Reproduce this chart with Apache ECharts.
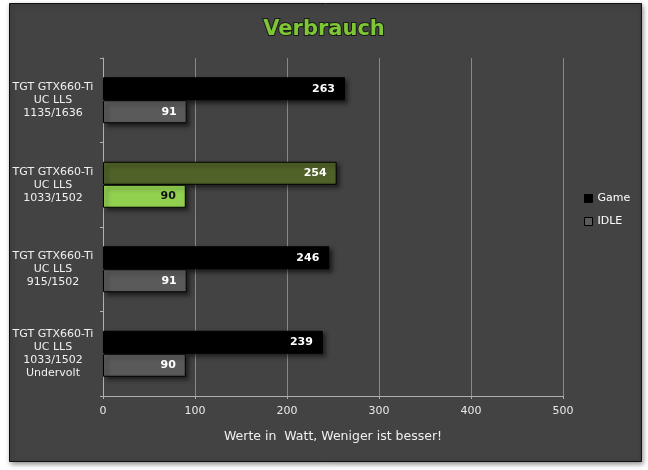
<!DOCTYPE html>
<html><head><meta charset="utf-8">
<script src="https://cdn.jsdelivr.net/npm/echarts@6/dist/echarts.min.js"></script>
<style>html,body{margin:0;padding:0;background:#fff;}#c{width:648px;height:470px;}</style>
</head><body><div id="c"></div>
<script>
var categories = ['TGT GTX660-Ti\nUC LLS\n1135/1636','TGT GTX660-Ti\nUC LLS\n1033/1502','TGT GTX660-Ti\nUC LLS\n915/1502','TGT GTX660-Ti\nUC LLS\n1033/1502\nUndervolt'];
var gameValues = [263, 254, 246, 239];
var idleValues = [91, 90, 91, 90];
var highlightIndex = 1;

var chart = echarts.init(document.getElementById('c'));
var shadow = {shadowColor:'rgba(0,0,0,0.55)', shadowBlur:4, shadowOffsetX:3, shadowOffsetY:3};
function mk(vals, hiColor, hiLabel){
  return vals.map(function(v,i){
    var d = {value:v};
    if(i===highlightIndex){ d.itemStyle={color:hiColor}; if(hiLabel) d.label={color:hiLabel}; }
    return d;
  });
}
var font = 'DejaVu Sans';
chart.setOption({
  backgroundColor:'#ffffff',
  animation:false,
  graphic:[{type:'rect', z:-10, shape:{x:9.5,y:3.5,width:632,height:458},
    style:{fill:'#434343', stroke:'#111', lineWidth:1, shadowColor:'rgba(0,0,0,0.45)', shadowBlur:5, shadowOffsetX:1, shadowOffsetY:2}}],
  title:{text:'Verbrauch', left:'center', top:14,
    textStyle:{fontFamily:font, fontSize:21, fontWeight:'bold', color:'#7dc634', textBorderColor:'#1b1b1b', textBorderWidth:2}},
  legend:{orient:'vertical', left:579, top:188, itemWidth:8, itemHeight:8, itemGap:12, icon:'rect',
    textStyle:{fontFamily:font, fontSize:11, color:'#ffffff'},
    data:[{name:'Game', itemStyle:{color:'#000', borderColor:'#000', borderWidth:1}},
          {name:'IDLE', itemStyle:{color:'#5a5a5a', borderColor:'#000', borderWidth:1}}]},
  grid:{left:103, right:85, top:58, bottom:74},
  xAxis:{type:'value', min:0, max:500, interval:100,
    name:'Werte in  Watt, Weniger ist besser!', nameLocation:'middle', nameGap:34,
    nameTextStyle:{fontFamily:font, fontSize:12.5, color:'#f0f0f0'},
    axisLine:{show:true, lineStyle:{color:'#b0b0b0', width:1}},
    axisTick:{show:true, length:3, lineStyle:{color:'#b0b0b0'}},
    axisLabel:{fontFamily:font, fontSize:11, color:'#e8e8e8', margin:10},
    splitLine:{show:true, lineStyle:{color:'#7a9a4e', width:1}}},
  yAxis:{type:'category', inverse:true, data:categories,
    axisLine:{show:true, lineStyle:{color:'#b0b0b0', width:1}},
    axisTick:{show:true, length:3, lineStyle:{color:'#b0b0b0'}},
    axisLabel:{fontFamily:font, fontSize:11, color:'#f0f0f0', align:'center', margin:50, lineHeight:13}},
  series:[
    {name:'Game', type:'bar', data:mk(gameValues,'#4f6228'), barWidth:23, barGap:'0%',
     itemStyle:Object.assign({color:'#000', borderColor:'#000', borderWidth:1}, shadow),
     label:{show:true, position:'insideRight', distance:10, fontFamily:font, fontSize:11, fontWeight:'bold', color:'#fff'}},
    {name:'IDLE', type:'bar', data:mk(idleValues,'#92d050','#111'), barWidth:23, barGap:'0%',
     itemStyle:Object.assign({color:'#5a5a5a', borderColor:'#000', borderWidth:1}, shadow),
     label:{show:true, position:'insideRight', distance:10, fontFamily:font, fontSize:11, fontWeight:'bold', color:'#fff'}}
  ]
});
</script></body></html>
